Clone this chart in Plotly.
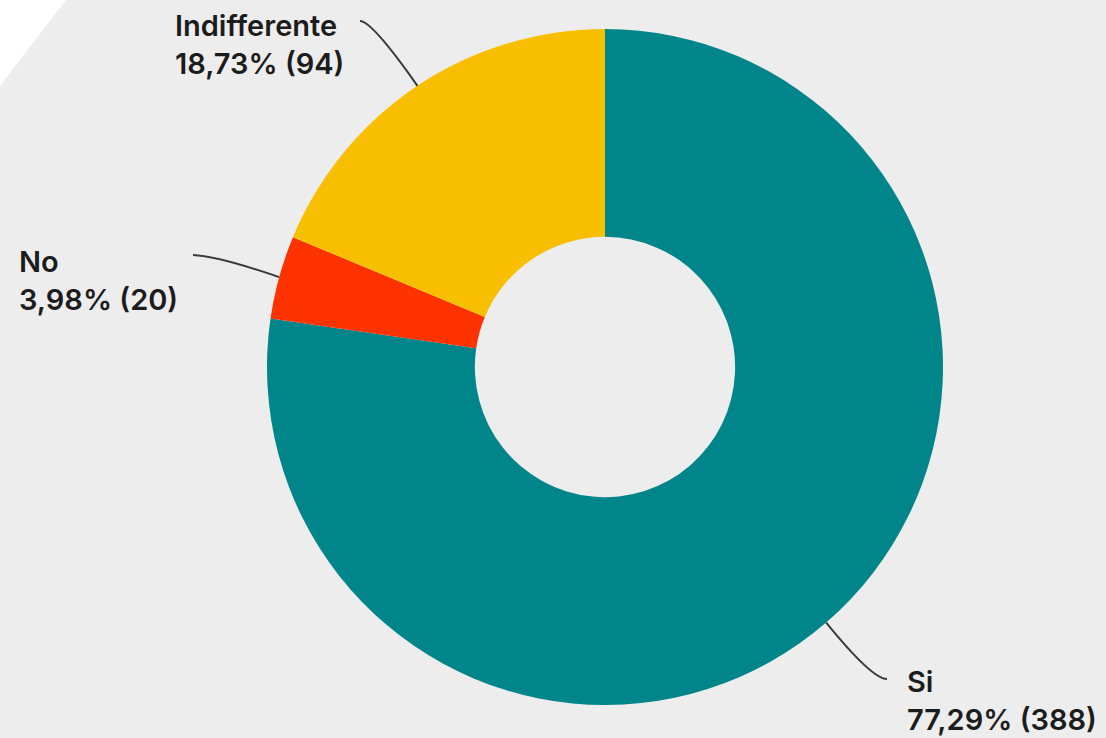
import math
import plotly.graph_objects as go

# Survey answers
labels = ["Si", "No", "Indifferente"]
values = [388, 20, 94]
colors = ["#00868A", "#FF3300", "#F8BF00"]

W, H = 1106, 738
CX, CY, R = 605, 367, 338  # donut centre and outer radius in px
HOLE = 0.385

total = sum(values)


def pct(v):
    return f"{v / total * 100:.2f}".replace(".", ",")


def to_paper(x, y):
    return x / W, 1 - y / H


fig = go.Figure(
    go.Pie(
        labels=labels,
        values=values,
        marker=dict(colors=colors, line=dict(width=0)),
        hole=HOLE,
        sort=False,
        direction="clockwise",
        rotation=0,
        textinfo="none",
        showlegend=False,
        domain=dict(x=[(CX - R) / W, (CX + R) / W], y=[1 - (CY + R) / H, 1 - (CY - R) / H]),
    )
)

# Label text position (top-left, px), leader end point and bezier control point
label_layout = {
    "Si": dict(text=(905, 662), end=(887, 679), ctrl=(872, 679)),
    "No": dict(text=(17, 242), end=(193, 255), ctrl=(218, 256)),
    "Indifferente": dict(text=(173, 6), end=(360, 21), ctrl=(372, 21)),
}

shapes = [
    # white corner band
    dict(type="path", xref="paper", yref="paper",
         path="M {},{} L {},{} L {},{} Z".format(*to_paper(0, 0), *to_paper(66, 0), *to_paper(0, 86)),
         fillcolor="white", line=dict(width=0), layer="below"),
]
annotations = []

cum = 0
for lab, v in zip(labels, values):
    mid = (cum + v / 2) / total * 2 * math.pi
    cum += v
    ax = CX + R * math.sin(mid)
    ay = CY - R * math.cos(mid)
    cfg = label_layout[lab]
    p0 = to_paper(ax, ay)
    pc = to_paper(*cfg["ctrl"])
    p1 = to_paper(*cfg["end"])
    shapes.append(dict(
        type="path", xref="paper", yref="paper",
        path=f"M {p0[0]},{p0[1]} Q {pc[0]},{pc[1]} {p1[0]},{p1[1]}",
        line=dict(color="#3a3a3a", width=2),
    ))
    tx, ty = to_paper(*cfg["text"])
    annotations.append(dict(
        xref="paper", yref="paper", x=tx, y=ty, xanchor="left", yanchor="top",
        align="left", showarrow=False,
        text=f"{lab}<br>{pct(v)}% ({v})",
        font=dict(family="Inter", size=29, color="#1c1c1c", weight=600),
    ))

fig.update_layout(
    width=W, height=H,
    margin=dict(l=0, r=0, t=0, b=0),
    paper_bgcolor="#EDEDED",
    plot_bgcolor="#EDEDED",
    shapes=shapes,
    annotations=annotations,
)

fig.write_html("out.html")
